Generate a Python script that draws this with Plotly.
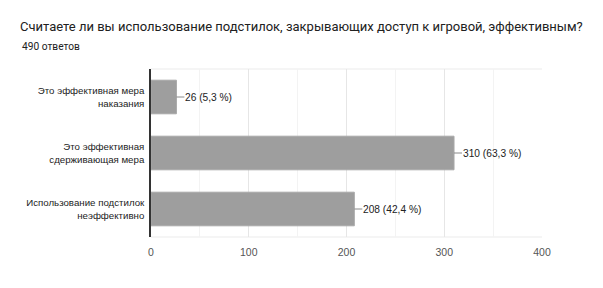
import plotly.graph_objects as go

categories = ["Это эффективная мера<br>наказания",
              "Это эффективная<br>сдерживающая мера",
              "Использование подстилок<br>неэффективно"]
values = [26, 310, 208]
labels = ["26 (5,3 %)", "310 (63,3 %)", "208 (42,4 %)"]
x_ticks = [0, 100, 200, 300, 400]

LBL = "Liberation Sans, Arial, sans-serif"

fig = go.Figure()
fig.add_trace(go.Bar(
    y=categories, x=values, orientation="h",
    marker=dict(color="#9e9e9e", line=dict(color="#a8a8a8", width=1)),
    width=0.6, hoverinfo="skip",
))

anns = []
for c, v, t in zip(categories, values, labels):
    anns.append(dict(x=v, y=c, text=t, showarrow=True, arrowhead=0,
                     arrowwidth=1, arrowcolor="#8a8a8a", ax=8, ay=0,
                     xanchor="left", font=dict(family=LBL, size=10.2, color="#222"),
                     borderpad=0))
anns.append(dict(text="490 ответов", xref="paper", yref="paper", x=-131/391,
                 y=1 + (69 - 39) / 168, xanchor="left", yanchor="top",
                 showarrow=False, font=dict(family="Roboto", size=10.2, color="#212121")))

fig.add_shape(type="line", xref="paper", yref="paper", x0=0, x1=1, y0=1, y1=1,
              line=dict(color="#ebebeb", width=1), layer="below")
fig.add_shape(type="line", xref="paper", yref="paper", x0=0, x1=1, y0=0, y1=0,
              line=dict(color="#ebebeb", width=1), layer="below")

fig.update_layout(
    width=603, height=288,
    margin=dict(l=151, r=61, t=69, b=51),
    paper_bgcolor="white", plot_bgcolor="white",
    showlegend=False,
    font=dict(family=LBL, size=10, color="#222"),
    title=dict(text="Считаете ли вы использование подстилок, закрывающих доступ к игровой, эффективным?",
               x=20/603, xref="container", xanchor="left", y=1, yref="container", yanchor="top",
               pad=dict(t=22), font=dict(family="Roboto", size=13, color="#212121")),
    annotations=anns,
    xaxis=dict(range=[0, 400], tickvals=x_ticks, ticktext=[str(v) for v in x_ticks],
               showgrid=True, gridcolor="#e6e6e6", gridwidth=1, zeroline=False,
               tickfont=dict(family=LBL, size=10.5, color="#555"), ticks="",
               ticklabelstandoff=7,
               minor=dict(dtick=50, showgrid=True, gridcolor="#f3f3f3", gridwidth=1),
               fixedrange=True, automargin=False),
    yaxis=dict(autorange="reversed", showline=True, linecolor="#333", linewidth=1.5,
               ticks="", ticklabelstandoff=3, tickfont=dict(family=LBL, size=9.7, color="#222"),
               fixedrange=True, automargin=False),
    bargap=0.4,
)

fig.write_html("out.html")
